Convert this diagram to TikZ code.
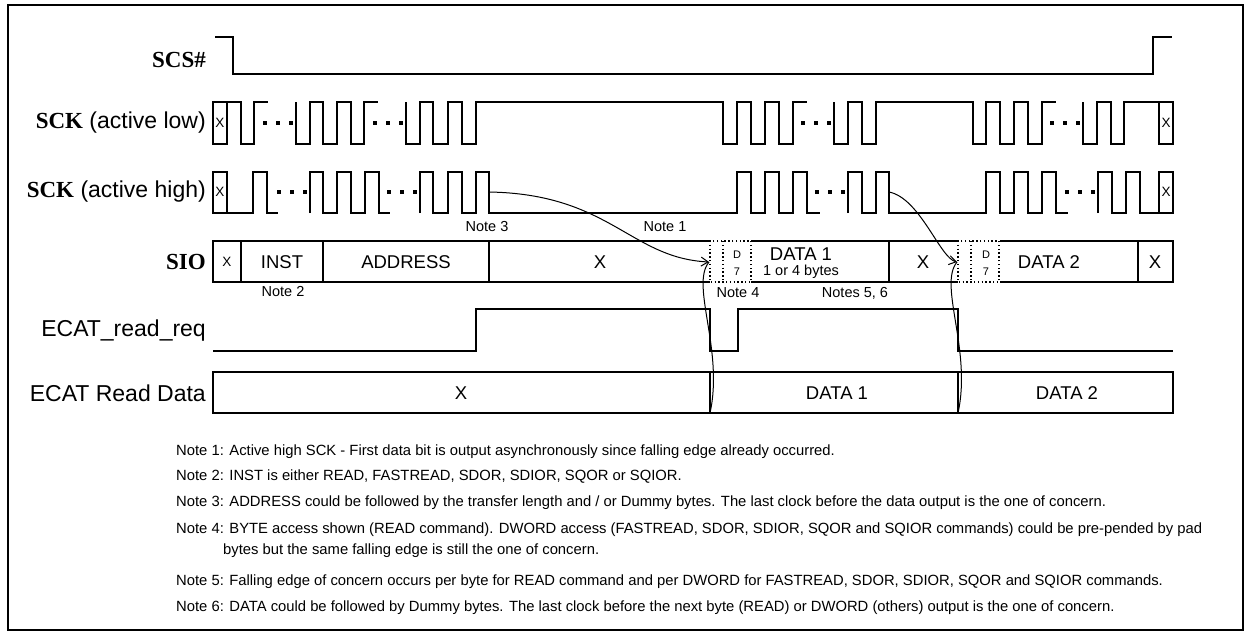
\documentclass[tikz,border=0pt]{standalone}
\usepackage{fontspec}
\setmainfont{Liberation Sans}
\newfontfamily\sigserif{Liberation Serif}
\usetikzlibrary{arrows.meta}
\tikzset{
  wave/.style={line width=1.3pt,line join=miter},
  bus/.style={line width=1.1pt},
  bus-dot/.style={line width=1.3pt,dash pattern=on 1.4pt off 2.4pt},
  sig-label/.style={anchor=east,inner sep=0pt,font=\fontsize{23}{25}\selectfont},
  bus-text/.style={inner sep=0pt,font=\fontsize{18.5}{20}\selectfont},
  small-text/.style={inner sep=0pt,font=\fontsize{14.5}{16}\selectfont},
  x-text/.style={inner sep=0pt,font=\fontsize{13.5}{14}\selectfont},
  bit-text/.style={inner sep=0pt,font=\fontsize{11}{12}\selectfont},
  note-text/.style={anchor=west,inner sep=0pt,font=\fontsize{14.8}{16}\selectfont},
  edge-arrow/.style={-{Straight Barb[length=7pt,width=9pt]},line width=1pt},
  edge-link/.style={line width=1pt},
}
% three square dots ending just before the next clock edge #1, at level #2
\newcommand{\ckdots}[2]{%
  \foreach \d in {31,18,5}
    \fill ({#1-\d-1.8},{#2-1.8}) rectangle ++(3.6,3.6);}

\begin{document}
\begin{tikzpicture}[x=1pt,y=-1pt]
  \useasboundingbox (0,0) rectangle (1251,635);
  \draw[line width=2pt] (8,5) rectangle (1243,630);

  % signal names
  \node[sig-label] (scs) at (206,60) {\sigserif\bfseries SCS\#};
  \node[sig-label] (sckl) at (206,123) {{\sigserif\bfseries SCK} (active low)};
  \node[sig-label] (sckh) at (206,192) {{\sigserif\bfseries SCK} (active high)};
  \node[sig-label] (sio) at (206,262) {\sigserif\bfseries SIO};
  \node[sig-label] (req) at (206,331) {ECAT\_read\_req};
  \node[sig-label] (rdata) at (206,393) {ECAT Read Data};

  % SCS#
  \draw[wave] (215,37) -| (233,74) -| (1153,37) -- (1172,37);

  % SCK active low
  \draw[wave] (213,102) rectangle (227,144);
  \node[x-text] (xl1) at (220,123) {X};
  \draw[wave] (227,102) -| (241,144) -| (254,102) -- (268,102);
  \ckdots{296}{123}
  \draw[wave] (296,102) -- (296,144) -| (310,102) -| (323,144) -| (337,102)
    -| (351,144) -| (364,102) -- (378,102);
  \ckdots{406}{123}
  \draw[wave] (406,102) -- (406,144) -| (420,102) -| (433,144) -| (448,102)
    -| (462,144) -| (476,102) -| (723,144) -| (737,102) -| (751,144)
    -| (765,102) -| (779,144) -| (793,102) -- (807,102);
  \ckdots{834}{123}
  \draw[wave] (834,102) -- (834,144) -| (848,102) -| (862,144) -| (876,102)
    -| (973,144) -| (986,102) -| (1000,144) -| (1014,102) -| (1028,144)
    -| (1042,102) -- (1056,102);
  \ckdots{1083}{123}
  \draw[wave] (1083,102) -- (1083,144) -| (1097,102) -| (1111,144)
    -| (1124,102) -- (1159,102);
  \draw[wave] (1159,102) rectangle (1173,144);
  \node[x-text] (xl2) at (1166,123) {X};

  % SCK active high
  \draw[wave] (213,172) rectangle (227,213);
  \node[x-text] (xh1) at (220,192) {X};
  \draw[wave] (227,213) -| (253,172) -| (267,213) -- (278,213);
  \ckdots{310}{192}
  \draw[wave] (310,213) -- (310,172) -| (323,213) -| (337,172) -| (351,213)
    -| (365,172) -| (379,213) -- (390,213);
  \ckdots{420}{192}
  \draw[wave] (420,213) -- (420,172) -| (433,213) -| (448,172) -| (462,213)
    -| (476,172) -| (489,213) -| (737,172) -| (751,213) -| (765,172)
    -| (779,213) -| (793,172) -| (807,213) -- (820,213);
  \ckdots{848}{192}
  \draw[wave] (848,213) -- (848,172) -| (862,213) -| (876,172) -| (889,213)
    -| (986,172) -| (1000,213) -| (1014,172) -| (1028,213) -| (1042,172)
    -| (1056,213) -- (1068,213);
  \ckdots{1098}{192}
  \draw[wave] (1098,213) -- (1098,172) -| (1112,213) -| (1126,172)
    -| (1140,213) -- (1159,213);
  \draw[wave] (1159,172) rectangle (1173,213);
  \node[x-text] (xh2) at (1166,192) {X};

  % SIO bus
  \draw[bus] (710,241) -- (213,241) -- (213,282) -- (710,282);
  \foreach \x in {241,323,489} \draw[bus] (\x,241) -- (\x,282);
  \draw[bus] (751,241) -- (958,241) (751,282) -- (958,282) (889,241) -- (889,282);
  \draw[bus] (1000,241) -- (1173,241) -- (1173,282) -- (1000,282) (1138,241) -- (1138,282);
  \foreach \x in {710,958} {
    \draw[bus-dot] (\x,241) rectangle ++(41,41);
    \draw[bus-dot] ({\x+13},241) -- ++(0,41);
  }
  \node[x-text] (sx0) at (227,262) {X};
  \node[bus-text] (inst) at (282,262) {INST};
  \node[bus-text] (addr) at (406,262) {ADDRESS};
  \node[bus-text] (sx1) at (600,262) {X};
  \node[bit-text] (d7a) at (737,255) {D};
  \node[bit-text] (d7b) at (737,272) {7};
  \node[bus-text] (data1) at (801,254) {DATA 1};
  \node[small-text] (bytes) at (801,272) {1 or 4 bytes};
  \node[bus-text] (sx2) at (923,262) {X};
  \node[bit-text] (d7c) at (986,255) {D};
  \node[bit-text] (d7d) at (986,272) {7};
  \node[bus-text] (data2) at (1049,262) {DATA 2};
  \node[bus-text] (sx3) at (1155,262) {X};

  % notes near the bus
  \node[small-text] (n3) at (487,227) {Note 3};
  \node[small-text] (n1) at (665,227) {Note 1};
  \node[small-text] (n2) at (283,292) {Note 2};
  \node[small-text] (n4) at (738,293) {Note 4};
  \node[small-text] (n56) at (855,293) {Notes 5, 6};

  % ECAT_read_req
  \draw[wave] (213,351) -| (476,309) -| (710,351) -| (738,309) -| (958,351) -- (1173,351);

  % ECAT Read Data
  \draw[bus] (213,372) rectangle (1173,413);
  \foreach \x in {710,958} \draw[bus] (\x,372) -- (\x,413);
  \node[bus-text] (rx) at (461,393) {X};
  \node[bus-text] (rd1) at (837,393) {DATA 1};
  \node[bus-text] (rd2) at (1067,393) {DATA 2};

  % edges of concern
  \coordinate (fe1) at (489,192);
  \coordinate (fe2) at (889,192);
  \coordinate (out1) at (709,262);
  \coordinate (out2) at (957,262);
  \coordinate (rd1edge) at (710,413);
  \coordinate (rd2edge) at (958,413);
  \draw[edge-arrow] (fe1) .. controls (610,194) and (630,258) .. (out1);
  \draw[edge-arrow] (fe2) .. controls (920,198) and (940,258) .. (out2);
  \draw[edge-link] (rd1edge) .. controls (724,350) and (690,285) .. (out1);
  \draw[edge-link] (rd2edge) .. controls (972,350) and (938,285) .. (out2);

  % notes
  \node[note-text] (note1) at (176,452) {Note 1: Active high SCK - First data bit is output asynchronously since falling edge already occurred.};
  \node[note-text] (note2) at (176,477) {Note 2: INST is either READ, FASTREAD, SDOR, SDIOR, SQOR or SQIOR.};
  \node[note-text] (note3) at (176,503) {Note 3: ADDRESS could be followed by the transfer length and / or Dummy bytes. The last clock before the data output is the one of concern.};
  \node[note-text] (note4) at (176,530) {Note 4: BYTE access shown (READ command). DWORD access (FASTREAD, SDOR, SDIOR, SQOR and SQIOR commands) could be pre-pended by pad};
  \node[note-text] (note4b) at (223,551) {bytes but the same falling edge is still the one of concern.};
  \node[note-text] (note5) at (176,582) {Note 5: Falling edge of concern occurs per byte for READ command and per DWORD for FASTREAD, SDOR, SDIOR, SQOR and SQIOR commands.};
  \node[note-text] (note6) at (176,608) {Note 6: DATA could be followed by Dummy bytes. The last clock before the next byte (READ) or DWORD (others) output is the one of concern.};
\end{tikzpicture}
\end{document}
